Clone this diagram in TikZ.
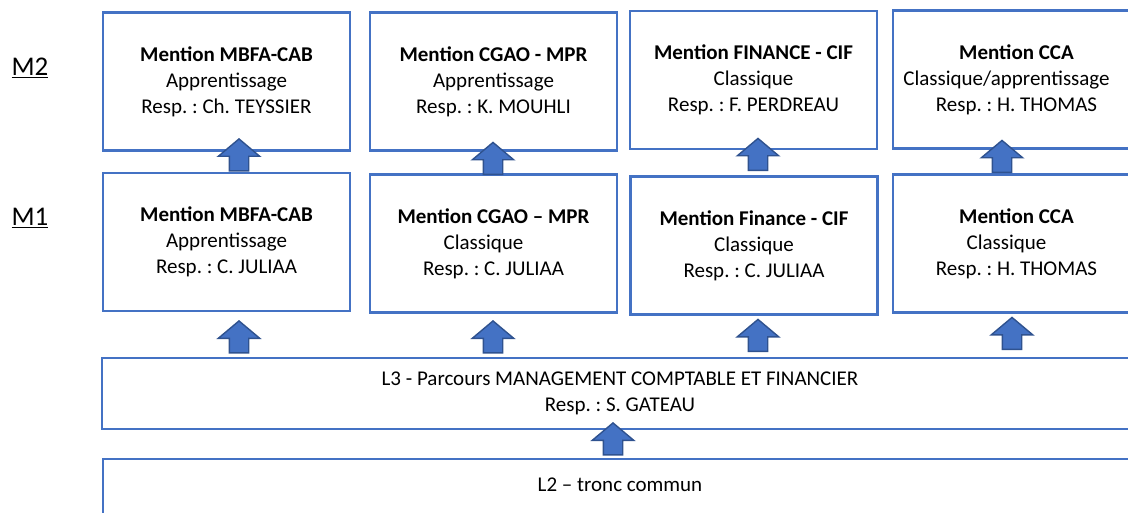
\documentclass[tikz,border=0pt]{standalone}
\usepackage{fontspec}
\setmainfont{Carlito}
\usetikzlibrary{shapes.arrows}
\definecolor{azul}{HTML}{4472C4}
\definecolor{azuloscuro}{HTML}{2F528F}
\frenchspacing

\begin{document}
\begin{tikzpicture}[   % opciones por defecto
  x=1pt, y=-1pt,       % un punto por pixel, eje y hacia abajo
  font=\fontsize{21}{26}\selectfont
]
  \tikzstyle{caja}=[draw=azul, line width=2.2pt, align=center, inner sep=0pt,
                    minimum width=247pt, minimum height=138pt];
  \tikzstyle{flecha}=[single arrow, rotate=90, fill=azul, draw=azuloscuro,
                      line width=1.4pt, minimum height=32pt, minimum width=40pt,
                      single arrow head extend=11pt, single arrow tip angle=100,
                      inner xsep=3pt, inner ysep=9pt];
  \tikzstyle{nivel}=[font=\fontsize{27}{32}\selectfont];
  %
  % marco de la imagen
  \useasboundingbox (0,0) rectangle (1128,513);
  %
  % etiquetas de nivel
  \node [nivel] (lm2) at (30,68)  {\underline{M2}};
  \node [nivel] (lm1) at (30,218) {\underline{M1}};
  %
  % cajas M2
  \node [caja] (b1) at (226.5,81.5) {\textbf{Mention MBFA-CAB}\\Apprentissage\\Resp. : Ch. TEYSSIER};
  \node [caja] (b2) at (493.5,81.5) {\textbf{Mention CGAO - MPR}\\Apprentissage\\Resp. : K. MOUHLI};
  \node [caja] (b3) at (753.5,80)   {\textbf{Mention FINANCE - CIF}\\Classique\\Resp. : F. PERDREAU};
  \node [caja] (b4) at (1016.5,79.5) {\textbf{Mention CCA}\\Classique/apprentissage\kern20pt\\Resp. : H. THOMAS};
  %
  % cajas M1
  \node [caja] (c1) at (226.5,242)  {\textbf{Mention MBFA-CAB}\\Apprentissage\\Resp. : C. JULIAA};
  \node [caja] (c2) at (493.5,243.5) {\textbf{Mention CGAO – MPR}\\Classique\kern20pt\\Resp. : C. JULIAA};
  \node [caja] (c3) at (754,245.5)  {\textbf{Mention Finance - CIF}\\Classique\\Resp. : C. JULIAA};
  \node [caja] (c4) at (1016.5,243.5) {\textbf{Mention CCA}\\Classique\kern20pt\\Resp. : H. THOMAS};
  %
  % licencia L3 y tronco comun L2
  \node [caja, minimum width=1036pt, minimum height=71pt] (l3) at (620,393.5)
    {L3 - Parcours MANAGEMENT COMPTABLE ET FINANCIER\\Resp. : S. GATEAU};
  \node [caja, minimum width=1034pt, minimum height=0pt, anchor=north,
         text height=32pt, text depth=60pt] (l2) at (620,458) {L2 – tronc commun};
  %
  % flechas M1 - M2
  \node [flecha] (f1) at (239,159)   {};
  \node [flecha] (f2) at (493,162.5) {};
  \node [flecha] (f3) at (758,158.5) {};
  \node [flecha] (f4) at (1002,160.5) {};
  %
  % flechas L3 - M1
  \node [flecha] (g1) at (239,341)   {};
  \node [flecha] (g2) at (493,341)   {};
  \node [flecha] (g3) at (758,339.5) {};
  \node [flecha] (g4) at (1012,337.5) {};
  %
  % flecha L2 - L3
  \node [flecha] (h1) at (613,443) {};
\end{tikzpicture}
\end{document}
